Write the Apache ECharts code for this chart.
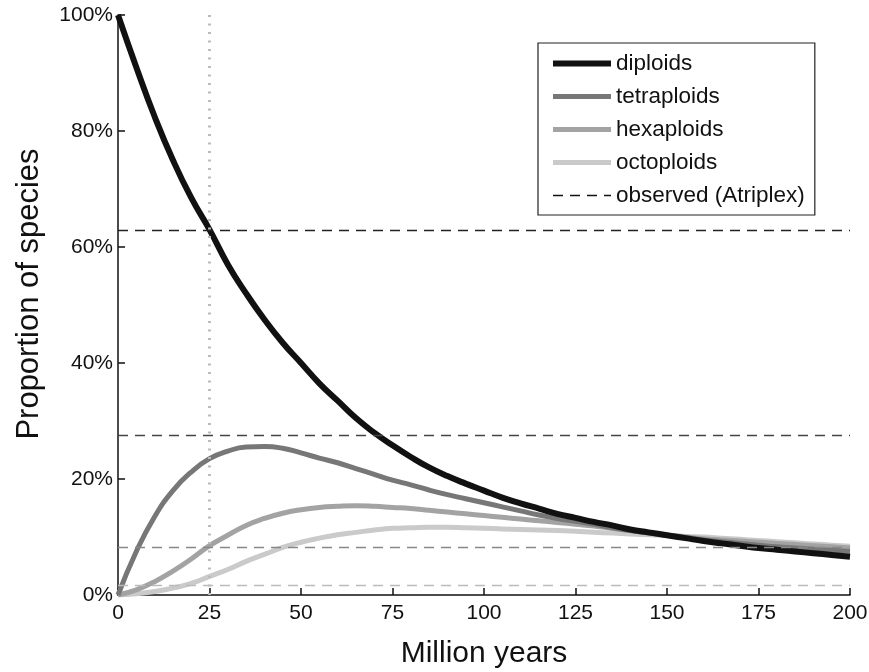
<!DOCTYPE html>
<html>
<head>
<meta charset="utf-8">
<script src="https://cdn.jsdelivr.net/npm/echarts@6/dist/echarts.min.js"></script>
<style>
  html, body { margin: 0; padding: 0; background: #fff; }
  #chart { width: 869px; height: 672px; }
</style>
</head>
<body>
<div id="chart"></div>
<script>
// million years, every 5
var years = [0, 5, 10, 15, 20, 25, 30, 35, 40, 45, 50, 55, 60, 65, 70, 75, 80, 85, 90, 95, 100,
    105, 110, 115, 120, 125, 130, 135, 140, 145, 150, 155, 160, 165, 170, 175, 180, 185, 190, 195, 200];

// proportion of species (%)
var diploids = [100, 91, 82.5, 75, 68.5, 63, 57, 52, 47.5, 43.5, 40, 36.5, 33.5, 30.5, 28, 25.8, 23.8, 22, 20.5, 19.2, 18,
    16.8, 15.8, 14.9, 14, 13.3, 12.6, 12, 11.3, 10.8, 10.3, 9.8, 9.3, 8.9, 8.5, 8.1, 7.8, 7.5, 7.2, 6.9, 6.6];
var tetraploids = [0, 7.5, 13.5, 18, 21.2, 23.5, 24.8, 25.5, 25.6, 25.3, 24.5, 23.6, 22.8, 21.8, 20.8, 19.8, 19, 18.1, 17.3, 16.6, 15.9,
    15.2, 14.5, 13.8, 13.2, 12.7, 12.2, 11.6, 11.1, 10.7, 10.3, 9.9, 9.5, 9.2, 8.9, 8.6, 8.3, 8.1, 7.9, 7.7, 7.5];
var hexaploids = [0, 0.9, 2.3, 4.1, 6.2, 8.5, 10.3, 12, 13.2, 14.1, 14.7, 15.1, 15.3, 15.4, 15.3, 15.1, 14.9, 14.6, 14.3, 14, 13.7,
    13.4, 13.1, 12.8, 12.5, 12.2, 11.9, 11.5, 11.1, 10.7, 10.3, 10, 9.7, 9.5, 9.3, 9.1, 8.9, 8.7, 8.5, 8.3, 8.1];
var octoploids = [0, 0.2, 0.6, 1.2, 2, 3.2, 4.4, 5.8, 7, 8.2, 9.1, 9.8, 10.4, 10.8, 11.2, 11.5, 11.6, 11.7, 11.7, 11.6, 11.5,
    11.4, 11.3, 11.2, 11.1, 11, 10.8, 10.7, 10.5, 10.4, 10.3, 10.1, 10, 9.8, 9.6, 9.4, 9.2, 9.0, 8.8, 8.6, 8.4];

// observed (Atriplex) levels, %
var observed = [62.9, 27.6, 8.3, 1.7];
var observedColors = ['#222', '#444', '#888', '#bbb'];
var markYear = 25;

function pairs(vals) {
    return years.map(function (t, i) { return [t, vals[i]]; });
}

var font = 'Liberation Sans, Arial, Helvetica, sans-serif';
var dom = document.getElementById('chart');
var myChart = echarts.init(dom);

var option = {
    backgroundColor: '#FFFFFF',
    animation: false,
    textStyle: { fontFamily: font },
    grid: {
        left: 118,
        right: 19,
        top: 15,
        bottom: 77,
        outerBoundsMode: 'none'
    },
    legend: {
        data: [
            { name: 'diploids', lineStyle: { width: 6 } },
            { name: 'tetraploids', lineStyle: { width: 5 } },
            { name: 'hexaploids', lineStyle: { width: 5 } },
            { name: 'octoploids', lineStyle: { width: 5 } },
            { name: 'observed (Atriplex)', lineStyle: { width: 1.3 } }
        ],
        orient: 'vertical',
        left: 538,
        top: 43,
        padding: [9, 10, 8, 12],
        itemWidth: 58,
        itemHeight: 8,
        itemGap: 10,
        itemStyle: { opacity: 0 },
        borderColor: '#222',
        borderWidth: 1.2,
        borderRadius: 0,
        textStyle: { fontSize: 22.5, color: '#111', fontFamily: font }
    },
    xAxis: {
        type: 'value',
        min: 0,
        max: 200,
        interval: 25,
        name: 'Million years',
        nameLocation: 'middle',
        nameGap: 44,
        nameTextStyle: { fontSize: 30, color: '#111' },
        axisLine: { show: true, lineStyle: { color: '#111', width: 1.5 } },
        axisTick: { show: true, inside: true, length: 7, lineStyle: { color: '#111', width: 1.5 } },
        axisLabel: { fontSize: 21, color: '#111', margin: 8 },
        splitLine: { show: false }
    },
    yAxis: {
        type: 'value',
        min: 0,
        max: 100,
        interval: 20,
        name: 'Proportion of species',
        nameLocation: 'middle',
        nameGap: 73,
        nameTextStyle: { fontSize: 31, color: '#111', padding: [0, 0, 0, 22] },
        axisLine: { show: true, lineStyle: { color: '#111', width: 1.5 } },
        axisTick: { show: true, inside: true, length: 7, lineStyle: { color: '#111', width: 1.5 } },
        axisLabel: { fontSize: 21, color: '#111', margin: 5, formatter: '{value}%' },
        splitLine: { show: false }
    },
    series: [
        {
            name: 'observed (Atriplex)',
            type: 'line',
            data: [],
            symbol: 'none',
            color: '#111',
            lineStyle: { color: '#111', width: 1.3, type: [10, 7] },
            markLine: {
                silent: true,
                symbol: 'none',
                label: { show: false },
                data: observed.map(function (v, i) {
                    return { yAxis: v, lineStyle: { color: observedColors[i], width: 1.3, type: [10, 7] } };
                }).concat([
                    { xAxis: markYear, lineStyle: { color: '#bbb', width: 3, type: [2, 6.5] } }
                ])
            }
        },
        {
            name: 'octoploids',
            type: 'line',
            smooth: true,
            symbol: 'none',
            color: '#cacaca',
            lineStyle: { width: 5, color: '#cacaca' },
            data: pairs(octoploids)
        },
        {
            name: 'hexaploids',
            type: 'line',
            smooth: true,
            symbol: 'none',
            color: '#a3a3a3',
            lineStyle: { width: 5, color: '#a3a3a3' },
            data: pairs(hexaploids)
        },
        {
            name: 'tetraploids',
            type: 'line',
            smooth: true,
            symbol: 'none',
            color: '#777',
            lineStyle: { width: 5, color: '#777' },
            data: pairs(tetraploids)
        },
        {
            name: 'diploids',
            type: 'line',
            smooth: true,
            symbol: 'none',
            color: '#111',
            lineStyle: { width: 6, color: '#111' },
            data: pairs(diploids)
        }
    ]
};

if (option && typeof option === 'object') {
    myChart.setOption(option);
}
</script>
</body>
</html>
